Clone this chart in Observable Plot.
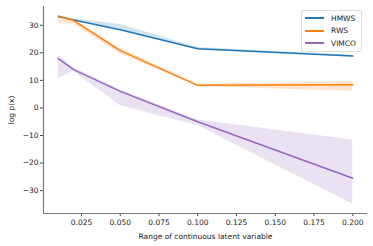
<!DOCTYPE html>
<html><head><meta charset="utf-8">
<script src="https://cdn.jsdelivr.net/npm/d3@7"></script>
<script src="https://cdn.jsdelivr.net/npm/@observablehq/plot@0.6"></script>
<style>
body{margin:0;background:#fff;font-family:"DejaVu Sans",sans-serif;}
#wrap{position:relative;width:373px;height:246px;}
#legend{position:absolute;left:301px;top:10px;width:61px;height:42px;border:1px solid #ddd;border-radius:2px;background:rgba(255,255,255,0.8);font-size:7.5px;color:#222;box-sizing:border-box;}
.li{position:absolute;left:3px;height:10px;display:flex;align-items:center;}
.li span.sw{display:inline-block;width:19px;height:2px;margin-right:7px;}
</style></head><body>
<div id="wrap"><div id="chart"></div><div id="legend"></div></div>
<script>
const xs = [0.01, 0.02, 0.05, 0.1, 0.2];
const series = ["HMWS", "RWS", "VIMCO"];
const colors = ["#1f77b4", "#ff7f0e", "#9467bd"];
const hmwsMean = [33.2, 31.9, 28.4, 21.5, 18.8];
const hmwsLow  = [32.9, 31.6, 28.0, 21.0, 18.5];
const hmwsHigh = [33.5, 32.3, 30.3, 21.9, 19.1];
const rwsMean = [33.3, 31.7, 20.8, 8.2, 8.4];
const rwsLow  = [30.6, 30.3, 19.6, 7.8, 6.0];
const rwsHigh = [33.6, 32.0, 21.6, 8.6, 9.5];
const vimcoMean = [17.9, 13.9, 6.0, -5.0, -25.5];
const vimcoLow  = [10.8, 13.2, 0.8, -6.4, -34.9];
const vimcoHigh = [19.0, 14.6, 6.6, -4.4, -11.6];
const xTicks = [0.025, 0.05, 0.075, 0.1, 0.125, 0.15, 0.175, 0.2];
const yTicks = [-30, -20, -10, 0, 10, 20, 30];

const means = [hmwsMean, rwsMean, vimcoMean];
const lows = [hmwsLow, rwsLow, vimcoLow];
const highs = [hmwsHigh, rwsHigh, vimcoHigh];
const data = [];
series.forEach((s, i) => xs.forEach((x, j) => data.push({s, x, m: means[i][j], lo: lows[i][j], hi: highs[i][j]})));

const chart = Plot.plot({
  width: 373, height: 246,
  marginLeft: 43, marginRight: 6, marginTop: 6, marginBottom: 33,
  style: {fontFamily: "DejaVu Sans, sans-serif", fontSize: "7.5px", color: "#222"},
  x: {domain: [0.0005, 0.2095]},
  y: {domain: [-38.3, 36.8]},
  color: {domain: series, range: colors},
  marks: [
    Plot.areaY(data, {x: "x", y1: "lo", y2: "hi", z: "s", fill: "s", fillOpacity: 0.2}),
    Plot.line(data, {x: "x", y: "m", z: "s", stroke: "s", strokeWidth: 1.5}),
    Plot.axisX({ticks: xTicks, tickFormat: d3.format(".3f"), tickSize: 3, tickPadding: 3, stroke: "#444", label: "Range of continuous latent variable", labelAnchor: "center", labelArrow: "none", labelOffset: 25, fontSize: 7.5}),
    Plot.axisY({ticks: yTicks, tickFormat: d => d < 0 ? "\u2212" + Math.abs(d) : d, tickSize: 3, tickPadding: 2, stroke: "#444", label: "log p(x)", labelAnchor: "center", labelArrow: "none", labelOffset: 35, fontSize: 7.5}),
    Plot.ruleX([0.0005], {stroke: "#777", strokeWidth: 1.2}),
    Plot.ruleY([-38.3], {stroke: "#777", strokeWidth: 1.2})
  ]
});
document.getElementById("chart").appendChild(chart);

const lg = document.getElementById("legend");
series.forEach((s, i) => {
  const d = document.createElement("div");
  d.className = "li";
  d.style.top = (2 + i * 12.7) + "px";
  d.innerHTML = `<span class="sw" style="background:${colors[i]}"></span>${s}`;
  lg.appendChild(d);
});
</script></body></html>
